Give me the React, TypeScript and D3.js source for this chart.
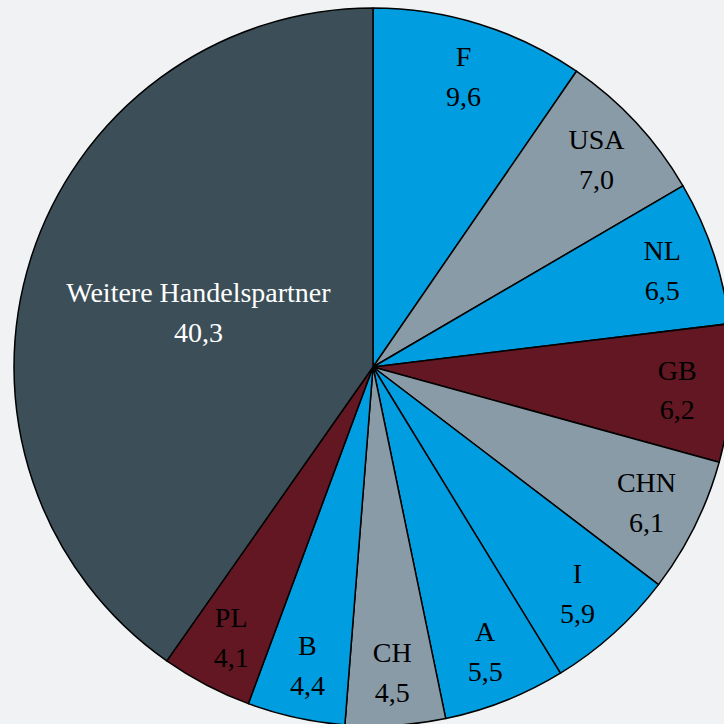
import React, { useRef, useEffect } from 'react';
import * as d3 from 'd3';

// Anteile der Handelspartner (in %)
const partners = ['F', 'USA', 'NL', 'GB', 'CHN', 'I', 'A', 'CH', 'B', 'PL', 'Weitere Handelspartner'];
const shares = [9.6, 7.0, 6.5, 6.2, 6.1, 5.9, 5.5, 4.5, 4.4, 4.1, 40.3];
const colorKeys = ['blue', 'gray', 'blue', 'red', 'gray', 'blue', 'blue', 'gray', 'blue', 'red', 'dark'];

const palette: Record<string, string> = {
  blue: '#009ee0',
  gray: '#899ba7',
  red: '#621722',
  dark: '#3c4f58',
};

const App = () => {
  const chartRef = useRef<SVGSVGElement | null>(null);

  useEffect(() => {
    const width = 724;
    const height = 724;
    const cx = 373;
    const cy = 367;
    const radius = 359;

    const data = partners.map((name, i) => ({ name, value: shares[i], key: colorKeys[i] }));

    const root = d3.select(chartRef.current);
    root.selectAll('*').remove();

    root.append('rect')
      .attr('width', width)
      .attr('height', height)
      .attr('fill', '#f1f2f4');

    const svg = root.append('g')
      .attr('transform', `translate(${cx}, ${cy})`);

    const pie = d3.pie<any>()
      .value(d => d.value)
      .sort(null);

    const arc = d3.arc<any>()
      .innerRadius(0)
      .outerRadius(radius);

    const arcs = pie(data);

    svg.selectAll('path')
      .data(arcs)
      .enter().append('path')
      .attr('d', arc)
      .attr('fill', d => palette[d.data.key])
      .attr('stroke', '#000')
      .attr('stroke-width', 1.5)
      .attr('stroke-linejoin', 'round');

    // big slice gets its label further inside
    const labelPos = (d: any) => {
      const r = d.endAngle - d.startAngle > Math.PI / 2 ? radius * 0.51 : radius * 0.85;
      const a = (d.startAngle + d.endAngle) / 2;
      return [r * Math.sin(a), -r * Math.cos(a)];
    };

    const labels = svg.selectAll('text')
      .data(arcs)
      .enter().append('text')
      .attr('text-anchor', 'middle')
      .attr('font-family', '"Liberation Serif", "Times New Roman", serif')
      .attr('font-size', 28)
      .attr('fill', d => (d.data.key === 'dark' ? '#ffffff' : '#000000'));

    labels.append('tspan')
      .attr('x', d => labelPos(d)[0])
      .attr('y', d => labelPos(d)[1] - 10)
      .text(d => d.data.name);

    labels.append('tspan')
      .attr('x', d => labelPos(d)[0])
      .attr('y', d => labelPos(d)[1] + 30)
      .text(d => d.data.value.toFixed(1).replace('.', ','));
  }, []);

  return (
    <svg
      ref={chartRef}
      width={724}
      height={724}
      style={{ position: 'absolute', left: 0, top: 0, display: 'block' }}
    />
  );
};

export default App;
